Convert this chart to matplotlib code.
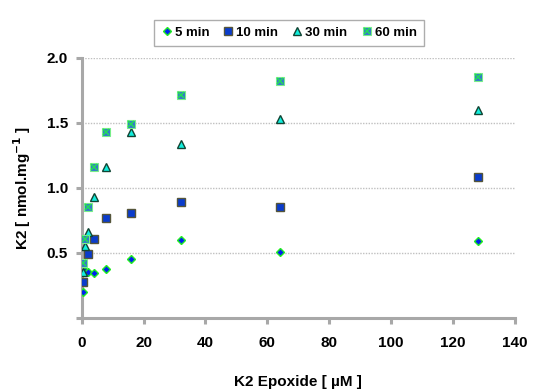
import matplotlib
matplotlib.use('Agg')
import matplotlib.pyplot as plt
from matplotlib.legend_handler import HandlerTuple

plt.rcParams['font.family'] = ['Liberation Sans', 'DejaVu Sans']
plt.rcParams['font.weight'] = 'bold'

# epoxide concentration (uM) for each time point
x_5 = [0.5, 1, 2, 4, 8, 16, 32, 64, 128]
k2_5 = [0.20, 0.36, 0.35, 0.345, 0.38, 0.45, 0.60, 0.51, 0.59]

x_10 = [0.5, 2, 4, 8, 16, 32, 64, 128]
k2_10 = [0.275, 0.49, 0.605, 0.77, 0.805, 0.895, 0.85, 1.087]

x_30 = [0.5, 1, 2, 4, 8, 16, 32, 64, 128]
k2_30 = [0.35, 0.55, 0.66, 0.93, 1.165, 1.43, 1.335, 1.53, 1.60]

x_60 = [0.5, 1, 2, 4, 8, 16, 32, 64, 128]
k2_60 = [0.42, 0.61, 0.85, 1.165, 1.43, 1.49, 1.715, 1.82, 1.85]

xticks = [0, 20, 40, 60, 80, 100, 120, 140]
yticks = [0, 0.5, 1.0, 1.5, 2.0]
ylabels = ['', '0.5', '1.0', '1.5', '2.0']

fig = plt.figure(figsize=(5.33, 3.91), dpi=100)
ax = fig.add_axes([0.1533, 0.1867, 0.8127, 0.665])

h5, = ax.plot(x_5, k2_5, 'D', ms=4, mfc='#0022ee', mec='#22ee22', mew=1.0, ls='none', zorder=3)
h10, = ax.plot(x_10, k2_10, 's', ms=6, mfc='#0a3ccc', mec='#55553a', mew=1.0, ls='none', zorder=3)
h30, = ax.plot(x_30, k2_30, '^', ms=6.2, mfc='#11eedd', mec='#114433', mew=1.0, ls='none', zorder=4)
h60a, = ax.plot(x_60, k2_60, 's', ms=5.5, mfc='#3377cc', mec='#77ee88', mew=0.8, ls='none', zorder=5)
h60b, = ax.plot(x_60, k2_60, 'x', ms=4, mec='#22dd55', mew=1.1, ls='none', zorder=6)

ax.set_xlim(0, 140)
ax.set_ylim(0, 2.0)
ax.set_xticks(xticks)
ax.set_yticks(yticks)
ax.set_yticklabels(ylabels)

for s in ['top', 'right']:
    ax.spines[s].set_visible(False)
for s in ['left', 'bottom']:
    ax.spines[s].set_color('#a8a8a8')
    ax.spines[s].set_linewidth(2.2)
ax.tick_params(axis='both', colors='#a8a8a8', width=2.2, length=4, labelsize=11)
ax.tick_params(axis='x', pad=9)
ax.tick_params(axis='y', pad=6)
for lab in ax.get_xticklabels() + ax.get_yticklabels():
    lab.set_color('black')
    lab.set_fontweight('bold')

for yv in yticks[1:]:
    ax.axhline(yv, color='#c0c0c0', lw=1.0, ls=(0, (1, 1)), zorder=1)

ax.set_xlabel('K2 Epoxide [ µM ]', fontsize=11, fontweight='bold', labelpad=18)
ax.set_ylabel('K2 [ nmol.mg$^{\\mathbf{-1}}$ ]', fontsize=11, fontweight='bold', labelpad=10)

leg = fig.legend([h5, h10, h30, (h60a, h60b)], ['5 min', '10 min', '30 min', '60 min'],
                 handler_map={tuple: HandlerTuple(ndivide=1, pad=0)},
                 loc='center', bbox_to_anchor=(289 / 533, 1 - 33 / 391), ncol=4,
                 frameon=True, fancybox=False, edgecolor='#999999',
                 handlelength=0.8, handletextpad=0.2, columnspacing=1.05,
                 borderpad=0.55, prop={'weight': 'bold', 'size': 9.5})
leg.get_frame().set_linewidth(1.0)

fig.savefig('out.png', dpi=100)
